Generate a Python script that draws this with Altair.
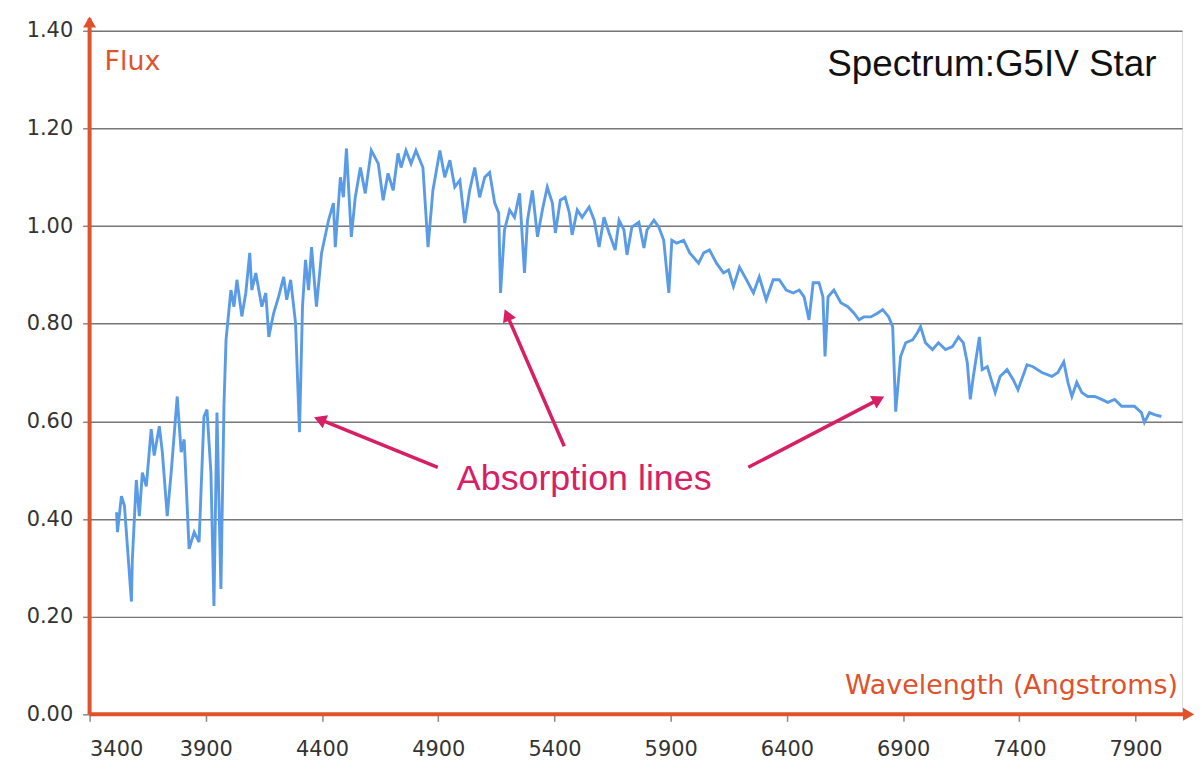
import math
import altair as alt
import pandas as pd

# ---- spectrum ----
WAVELENGTH = [
    3516, 3520, 3537, 3550, 3580, 3584, 3601, 3614, 3627, 3644, 3665, 3678, 3700, 3713,
    3734, 3751, 3777, 3794, 3807, 3828, 3850, 3871, 3892, 3905, 3922, 3935, 3948, 3965,
    3978, 3987, 4008, 4021, 4034, 4055, 4072, 4089, 4098, 4115, 4141, 4158, 4171, 4192,
    4213, 4235, 4248, 4265, 4286, 4303, 4316, 4329, 4342, 4355, 4376, 4398, 4428, 4449,
    4457, 4479, 4492, 4505, 4526, 4543, 4565, 4586, 4612, 4642, 4663, 4684, 4706, 4727,
    4740, 4761, 4783, 4804, 4834, 4856, 4877, 4907, 4928, 4950, 4971, 4993, 5014, 5035,
    5057, 5078, 5100, 5121, 5143, 5160, 5168, 5185, 5207, 5228, 5250, 5271, 5284, 5305,
    5327, 5348, 5369, 5391, 5404, 5425, 5446, 5464, 5476, 5498, 5519, 5549, 5571, 5592,
    5613, 5635, 5661, 5678, 5699, 5712, 5733, 5763, 5785, 5798, 5828, 5849, 5870, 5892,
    5905, 5926, 5956, 5982, 6020, 6042, 6067, 6097, 6127, 6149, 6170, 6196, 6226, 6256,
    6281, 6311, 6341, 6367, 6397, 6427, 6453, 6474, 6495, 6513, 6538, 6555, 6564, 6577,
    6602, 6632, 6662, 6688, 6710, 6731, 6761, 6791, 6812, 6838, 6855, 6868, 6889, 6911,
    6941, 6962, 6975, 6996, 7026, 7052, 7082, 7112, 7138, 7159, 7176, 7189, 7202, 7228,
    7240, 7262, 7296, 7317, 7347, 7373, 7394, 7433, 7459, 7497, 7540, 7566, 7591, 7609,
    7626, 7647, 7669, 7694, 7724, 7754, 7780, 7810, 7840, 7865, 7895, 7925, 7938, 7960,
    7981, 8011,
]
FLUX = [
    0.414, 0.373, 0.447, 0.427, 0.231, 0.318, 0.480, 0.406, 0.495, 0.467, 0.584, 0.530, 0.590, 0.537,
    0.406, 0.495, 0.651, 0.537, 0.563, 0.339, 0.373, 0.353, 0.610, 0.624, 0.495, 0.222, 0.618, 0.257,
    0.631, 0.767, 0.869, 0.835, 0.890, 0.815, 0.863, 0.945, 0.869, 0.904, 0.835, 0.863, 0.773, 0.822,
    0.855, 0.896, 0.849, 0.890, 0.802, 0.578, 0.835, 0.931, 0.869, 0.957, 0.835, 0.945, 1.012, 1.047,
    0.957, 1.100, 1.059, 1.159, 0.978, 1.059, 1.120, 1.067, 1.155, 1.128, 1.053, 1.108, 1.073, 1.149,
    1.120, 1.155, 1.128, 1.155, 1.120, 0.957, 1.073, 1.155, 1.100, 1.135, 1.080, 1.094, 1.006, 1.073,
    1.120, 1.059, 1.100, 1.110, 1.047, 1.027, 0.863, 0.992, 1.033, 1.018, 1.067, 0.904, 1.012, 1.073,
    0.978, 1.033, 1.080, 1.047, 0.986, 1.053, 1.059, 1.027, 0.982, 1.033, 1.018, 1.039, 1.012, 0.957,
    1.018, 0.986, 0.951, 1.012, 0.992, 0.941, 0.998, 1.008, 0.955, 0.992, 1.012, 0.998, 0.971, 0.863,
    0.971, 0.965, 0.971, 0.945, 0.924, 0.945, 0.951, 0.924, 0.904, 0.910, 0.876, 0.916, 0.890, 0.863,
    0.896, 0.849, 0.890, 0.890, 0.869, 0.863, 0.869, 0.855, 0.808, 0.884, 0.884, 0.855, 0.733, 0.855,
    0.869, 0.843, 0.835, 0.822, 0.808, 0.814, 0.814, 0.822, 0.829, 0.814, 0.794, 0.620, 0.733, 0.761,
    0.767, 0.782, 0.794, 0.761, 0.747, 0.761, 0.747, 0.753, 0.773, 0.761, 0.720, 0.645, 0.692, 0.773,
    0.706, 0.712, 0.659, 0.692, 0.706, 0.686, 0.665, 0.716, 0.712, 0.700, 0.692, 0.700, 0.722, 0.680,
    0.651, 0.680, 0.659, 0.651, 0.651, 0.645, 0.639, 0.645, 0.631, 0.631, 0.631, 0.618, 0.598, 0.618,
    0.614, 0.610,
]

# ---- axes ----
X_TICKS = [3400, 3900, 4400, 4900, 5400, 5900, 6400, 6900, 7400, 7900]
Y_TICKS = [0.0, 0.2, 0.4, 0.6, 0.8, 1.0, 1.2, 1.4]
X_DOMAIN = [3400, 8100]
Y_DOMAIN = [0, 1.4]

# ---- annotation arrows (tail -> head) ----
ARROW_TAIL_X = [4898, 5442, 6234]
ARROW_TAIL_Y = [0.506, 0.549, 0.506]
ARROW_HEAD_X = [4390, 5196, 6795]
ARROW_HEAD_Y = [0.604, 0.818, 0.645]

# ---- texts ----
TEXT_LABELS = ["Flux", "Spectrum:G5IV Star", "Absorption lines", "Wavelength (Angstroms)"]
TEXT_X = [3464, 7990, 5528, 8082]
TEXT_Y = [1.335, 1.329, 0.482, 0.057]

W, H = 1098, 687
ORANGE = "#e0522a"
MAGENTA = "#d81e64"
BLUE = "#5a9be8"

px_x = W / (X_DOMAIN[1] - X_DOMAIN[0])
px_y = H / (Y_DOMAIN[1] - Y_DOMAIN[0])

spec = pd.DataFrame({"wl": WAVELENGTH, "flux": FLUX})

xs = alt.Scale(domain=X_DOMAIN, nice=False, zero=False)
ys = alt.Scale(domain=Y_DOMAIN, nice=False)

x_axis = alt.Axis(values=X_TICKS, format="d", grid=False, domain=False, tickColor="#888",
                  tickSize=7, tickWidth=1.5, labelFontSize=21, labelColor="#333",
                  labelFont="DejaVu Sans", labelPadding=17, title=None)
y_axis = alt.Axis(values=Y_TICKS, format=".2f", grid=True, gridColor="#777", gridWidth=1.4,
                  domain=False, tickColor="#888", tickSize=7, tickWidth=1.5, labelFontSize=21,
                  labelColor="#333", labelFont="DejaVu Sans", labelPadding=10, title=None)

line = alt.Chart(spec).mark_line(color=BLUE, strokeWidth=2.9).encode(
    x=alt.X("wl:Q", scale=xs, axis=x_axis),
    y=alt.Y("flux:Q", scale=ys, axis=y_axis),
)

# orange axes with arrows
axes_df = pd.DataFrame({
    "x": [X_DOMAIN[0], X_DOMAIN[0]],
    "x2": [X_DOMAIN[0], 8125],
    "y": [0.0, 0.0],
    "y2": [1.425, 0.0],
})
axes_lines = alt.Chart(axes_df).mark_rule(color=ORANGE, strokeWidth=4).encode(
    x=alt.X("x:Q", scale=xs), x2="x2:Q", y=alt.Y("y:Q", scale=ys), y2="y2:Q"
)
heads_df = pd.DataFrame({"x": [X_DOMAIN[0], 8128], "y": [1.418, 0.0], "ang": [0, 90]})
axes_heads = alt.Chart(heads_df).mark_point(
    shape="triangle-up", filled=True, color=ORANGE, size=170, opacity=1
).encode(
    x=alt.X("x:Q", scale=xs), y=alt.Y("y:Q", scale=ys), angle=alt.Angle("ang:Q", scale=None)
)

# annotation arrows
angles = []
for tx, ty, hx, hy in zip(ARROW_TAIL_X, ARROW_TAIL_Y, ARROW_HEAD_X, ARROW_HEAD_Y):
    dx = (hx - tx) * px_x
    dy = (hy - ty) * px_y  # upward positive
    a = math.degrees(math.atan2(dx, dy)) % 360
    angles.append(a)
arr_df = pd.DataFrame({"tx": ARROW_TAIL_X, "ty": ARROW_TAIL_Y,
                       "hx": ARROW_HEAD_X, "hy": ARROW_HEAD_Y, "ang": angles})
arr_lines = alt.Chart(arr_df).mark_rule(color=MAGENTA, strokeWidth=3.5).encode(
    x=alt.X("tx:Q", scale=xs), y=alt.Y("ty:Q", scale=ys), x2="hx:Q", y2="hy:Q"
)
arr_heads = alt.Chart(arr_df).mark_point(
    shape="triangle-up", filled=True, color=MAGENTA, size=200, opacity=1
).encode(
    x=alt.X("hx:Q", scale=xs), y=alt.Y("hy:Q", scale=ys), angle=alt.Angle("ang:Q", scale=None)
)

txt = pd.DataFrame({"label": TEXT_LABELS, "x": TEXT_X, "y": TEXT_Y})


def text_layer(i, **kw):
    return alt.Chart(txt.iloc[[i]]).mark_text(baseline="middle", **kw).encode(
        x=alt.X("x:Q", scale=xs), y=alt.Y("y:Q", scale=ys), text="label:N"
    )


t_flux = text_layer(0, align="left", font="DejaVu Sans", fontSize=27, color=ORANGE)
t_title = text_layer(1, align="right", font="Liberation Sans", fontSize=37, color="#111")
t_abs = text_layer(2, align="center", font="Liberation Sans", fontSize=36, color=MAGENTA)
t_wave = text_layer(3, align="right", font="DejaVu Sans", fontSize=27, color=ORANGE)

chart = alt.layer(
    line, axes_lines, axes_heads, arr_lines, arr_heads, t_flux, t_title, t_abs, t_wave
).properties(
    width=W, height=H,
    autosize=alt.AutoSizeParams(type="none"),
    padding={"left": 82, "top": 21, "right": 12, "bottom": 45},
).configure_view(stroke="#999", strokeWidth=1.2).configure(background="white")

chart.save("out.html", embed_options={"renderer": "svg", "actions": False})
